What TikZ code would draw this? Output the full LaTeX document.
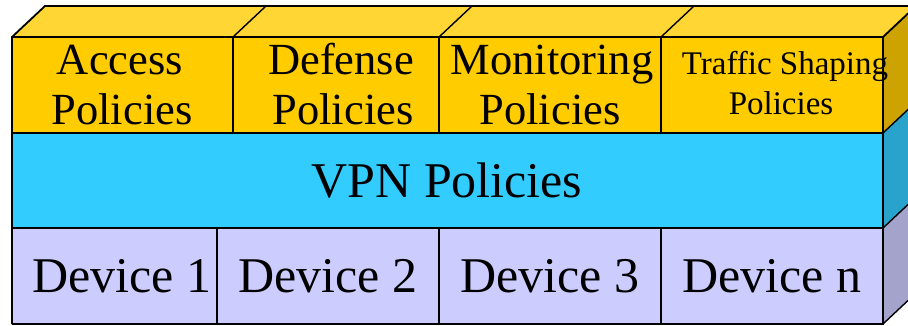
\documentclass[tikz,border=0pt]{standalone}
\usepackage{fontspec}
\setmainfont{Liberation Serif}
\definecolor{polfront}{HTML}{FFCC00}
\definecolor{poltop}{HTML}{FFD633}
\definecolor{polside}{HTML}{CCA300}
\definecolor{vpnfront}{HTML}{33CCFF}
\definecolor{vpnside}{HTML}{29A3CC}
\definecolor{devfront}{HTML}{CCCCFF}
\definecolor{devside}{HTML}{A3A3CC}
\begin{document}
\begin{tikzpicture}[x=1pt,y=-1pt,
  outline/.style={draw=black,line width=1.8pt,line join=miter},
  divider/.style={draw=black,line width=1.4pt},
  big/.style={font=\fontsize{50}{56}\selectfont,anchor=base,inner sep=0pt},
  mid/.style={font=\fontsize{44.5}{50}\selectfont,anchor=base,inner sep=0pt},
  small/.style={font=\fontsize{33}{38}\selectfont,anchor=base,inner sep=0pt}]
\useasboundingbox (0,0) rectangle (908,326);
\begin{scope}
\clip (0,0) rectangle (908,326);
% top face of the policy layer
\fill[poltop] (12,37) -- (45,6) -- (916,6) -- (883,37) -- cycle;
% right-hand side faces of the three layers
\fill[polside] (883,37) -- (916,6) -- (916,102) -- (883,133) -- cycle;
\fill[vpnside] (883,133) -- (916,102) -- (916,197) -- (883,228) -- cycle;
\fill[devside] (883,228) -- (916,197) -- (916,293) -- (883,324) -- cycle;
% front faces
\fill[polfront] (12,37) rectangle (883,133);
\fill[vpnfront] (12,133) rectangle (883,228);
\fill[devfront] (12,228) rectangle (883,324);
% edges of the top face
\draw[divider] (233,37) -- (266,6);
\draw[divider] (439,37) -- (472,6);
\draw[divider] (661,37) -- (694,6);
% edges of the side faces
\draw[divider] (883,133) -- (916,102);
\draw[divider] (883,228) -- (916,197);
\draw[divider] (883,324) -- (916,293);
% column dividers
\draw[divider] (233,37) -- (233,133);
\draw[divider] (439,37) -- (439,133);
\draw[divider] (661,37) -- (661,133);
\draw[divider] (217,228) -- (217,324);
\draw[divider] (439,228) -- (439,324);
\draw[divider] (661,228) -- (661,324);
% row dividers
\draw[outline] (12,133) -- (883,133);
\draw[outline] (12,228) -- (883,228);
% outline of the block
\draw[outline] (12,324) -- (12,37) -- (45,6) -- (916,6);
\draw[outline] (12,37) -- (883,37) -- (916,6);
\draw[outline] (883,37) -- (883,324) -- (12,324);
\end{scope}
% labels
\node[mid] (access1) at (120,75) {Access};
\node[mid] (access2) at (122,125) {Policies};
\node[mid] (defense1) at (341,75) {Defense};
\node[mid] (defense2) at (343,125) {Policies};
\node[mid] (monitor1) at (552,75) {Monitoring};
\node[mid] (monitor2) at (550,125) {Policies};
\node[small] (traffic1) at (785,75) {Traffic Shaping};
\node[small] (traffic2) at (781,115) {Policies};
\node[big] (vpn) at (447,197) {VPN Policies};
\node[big] (dev1) at (122,292) {Device 1};
\node[big] (dev2) at (328,292) {Device 2};
\node[big] (dev3) at (550,292) {Device 3};
\node[big] (devn) at (772,292) {Device n};
\end{tikzpicture}
\end{document}
